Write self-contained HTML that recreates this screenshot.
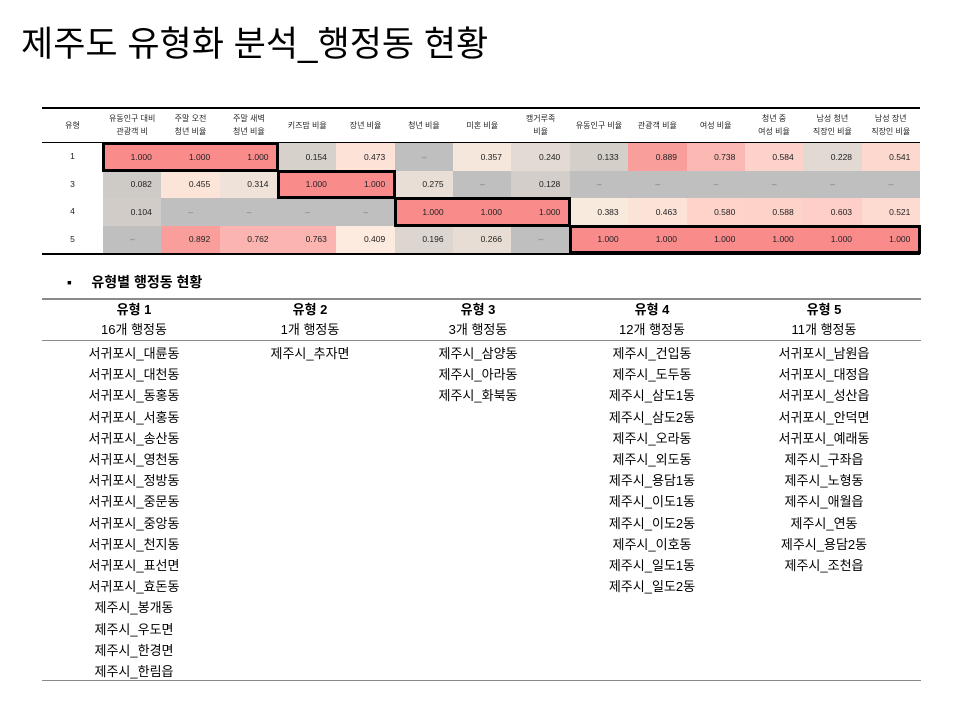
<!DOCTYPE html>
<html><head><meta charset="utf-8">
<style>
body{margin:0;width:961px;height:718px;background:#fff;position:relative;overflow:hidden;font-family:"Liberation Sans","Noto Sans CJK KR",sans-serif;color:#000}
.abs{position:absolute}
#title{left:21px;top:16px;font-size:35px;white-space:nowrap}
.hc{position:absolute;font-size:8px;text-align:center;display:flex;align-items:center;justify-content:center;line-height:13px;color:#222}
.cell{position:absolute;font-size:8.5px;display:flex;align-items:center;justify-content:flex-end;padding-right:10px;box-sizing:border-box;color:#222}
.dash{justify-content:center;padding:0;color:#777}
.box{position:absolute;border:3px solid #000;box-sizing:border-box}
.lt{position:absolute;font-size:13px;text-align:center;width:180px;white-space:nowrap}
</style></head><body>
<div id="title" class="abs">제주도 유형화 분석_행정동 현황</div>
<div id="heat"></div>
<div class="abs" style="left:67px;top:272px;font-size:14px;font-weight:bold;white-space:nowrap">▪&nbsp;&nbsp;&nbsp;&nbsp;&nbsp;유형별 행정동 현황</div>
<div id="list"></div>
<script>
const colHeaders=["유동인구 대비<br>관광객 비","주말 오전<br>청년 비율","주말 새벽<br>청년 비율","키즈맘 비율","장년 비율","청년 비율","미혼 비율","캥거루족<br>비율","유동인구 비율","관광객 비율","여성 비율","청년 중<br>여성 비율","남성 청년<br>직장인 비율","남성 장년<br>직장인 비율"];
const rowLabels=["1","3","4","5"];
const row1=[1,1,1,0.154,0.473,null,0.357,0.240,0.133,0.889,0.738,0.584,0.228,0.541];
const row3=[0.082,0.455,0.314,1,1,0.275,null,0.128,null,null,null,null,null,null];
const row4=[0.104,null,null,null,null,1,1,1,0.383,0.463,0.580,0.588,0.603,0.521];
const row5=[null,0.892,0.762,0.763,0.409,0.196,0.266,null,1,1,1,1,1,1];
const highlights=[[0,0,2],[1,3,4],[2,5,7],[3,8,13]];
const rows=[row1,row3,row4,row5];
const types=["유형 1","유형 2","유형 3","유형 4","유형 5"];
const counts=["16개 행정동","1개 행정동","3개 행정동","12개 행정동","11개 행정동"];
const t1=["서귀포시_대륜동","서귀포시_대천동","서귀포시_동홍동","서귀포시_서홍동","서귀포시_송산동","서귀포시_영천동","서귀포시_정방동","서귀포시_중문동","서귀포시_중앙동","서귀포시_천지동","서귀포시_표선면","서귀포시_효돈동","제주시_봉개동","제주시_우도면","제주시_한경면","제주시_한림읍"];
const t2=["제주시_추자면"];
const t3=["제주시_삼양동","제주시_아라동","제주시_화북동"];
const t4=["제주시_건입동","제주시_도두동","제주시_삼도1동","제주시_삼도2동","제주시_오라동","제주시_외도동","제주시_용담1동","제주시_이도1동","제주시_이도2동","제주시_이호동","제주시_일도1동","제주시_일도2동"];
const t5=["서귀포시_남원읍","서귀포시_대정읍","서귀포시_성산읍","서귀포시_안덕면","서귀포시_예래동","제주시_구좌읍","제주시_노형동","제주시_애월읍","제주시_연동","제주시_용담2동","제주시_조천읍"];
const lists=[t1,t2,t3,t4,t5];

const stops=[[0,[196,193,191]],[0.2,[221,214,208]],[0.4,[252,236,223]],[0.6,[253,208,200]],[0.8,[251,174,170]],[1,[249,139,139]]];
function color(v){if(v===null)return "#bfbfbf";for(let i=1;i<stops.length;i++){if(v<=stops[i][0]){const a=stops[i-1],b=stops[i],t=(v-a[0])/(b[0]-a[0]);return "rgb("+a[1].map((c,k)=>Math.round(c+(b[1][k]-c)*t)).join(",")+")";}}return "#f98b8b";}
const X0=103,CW=58.35,HY=107,HH=36,RY=143,RH=27.5;
const xAt=i=>X0+i*CW, yAt=r=>RY+r*RH;
const H=document.getElementById('heat');
function add(parent,tag,cls,style,html){const e=document.createElement(tag);if(cls)e.className=cls;e.style.cssText=style;if(html!==undefined)e.innerHTML=html;parent.appendChild(e);return e;}
let e;
e=add(H,'div','abs','left:42px;top:'+HY+'px;width:878px;height:1.5px;background:#000');


e=add(H,'div','abs','left:42px;top:'+(RY-1)+'px;width:878px;height:1px;background:#000');


e=add(H,'div','abs','left:42px;top:'+(yAt(4))+'px;width:878px;height:1.5px;background:#000');


e=add(H,'div','hc','left:42px;top:'+HY+'px;width:61px;height:'+HH+'px','유형');


colHeaders.forEach((h,i)=>{
  e=add(H,'div','hc','left:'+xAt(i)+'px;top:'+HY+'px;width:'+CW+'px;height:'+HH+'px',h);
  
  
});
rows.forEach((r,ri)=>{
  e=add(H,'div','hc','left:42px;top:'+yAt(ri)+'px;width:61px;height:'+RH+'px;font-size:8.5px',rowLabels[ri]);
  
  
  r.forEach((v,ci)=>{
    e=add(H,'div','cell'+(v===null?' dash':''),'left:'+xAt(ci)+'px;top:'+yAt(ri)+'px;width:'+(CW+0.5)+'px;height:'+RH+'px;background:'+color(v),v===null?'–':v.toFixed(3));
    
    
  });
});
highlights.forEach(h=>{
  e=add(H,'div','box','left:'+(xAt(h[1])-1)+'px;top:'+(yAt(h[0])-1)+'px;width:'+((h[2]-h[1]+1)*CW+2)+'px;height:'+(RH+2)+'px');
  
  
});
const L=document.getElementById('list');
const centers=[134,310,478,652,824];
[[298,1.5],[340,1],[680,1]].forEach(p=>{
  e=add(L,'div','abs','left:42px;top:'+p[0]+'px;width:879px;height:'+p[1]+'px;background:#8a8a8a');
  
  
});
types.forEach((t,i)=>{
  e=add(L,'div','lt','left:'+(centers[i]-90)+'px;top:299px;font-weight:bold',t);
  
  
  e=add(L,'div','lt','left:'+(centers[i]-90)+'px;top:319px',counts[i]);
  
  
  lists[i].forEach((d,j)=>{
    e=add(L,'div','lt','left:'+(centers[i]-90)+'px;top:'+(343+j*21.2)+'px',d);
    
    
  });
});
</script>
</body></html>
